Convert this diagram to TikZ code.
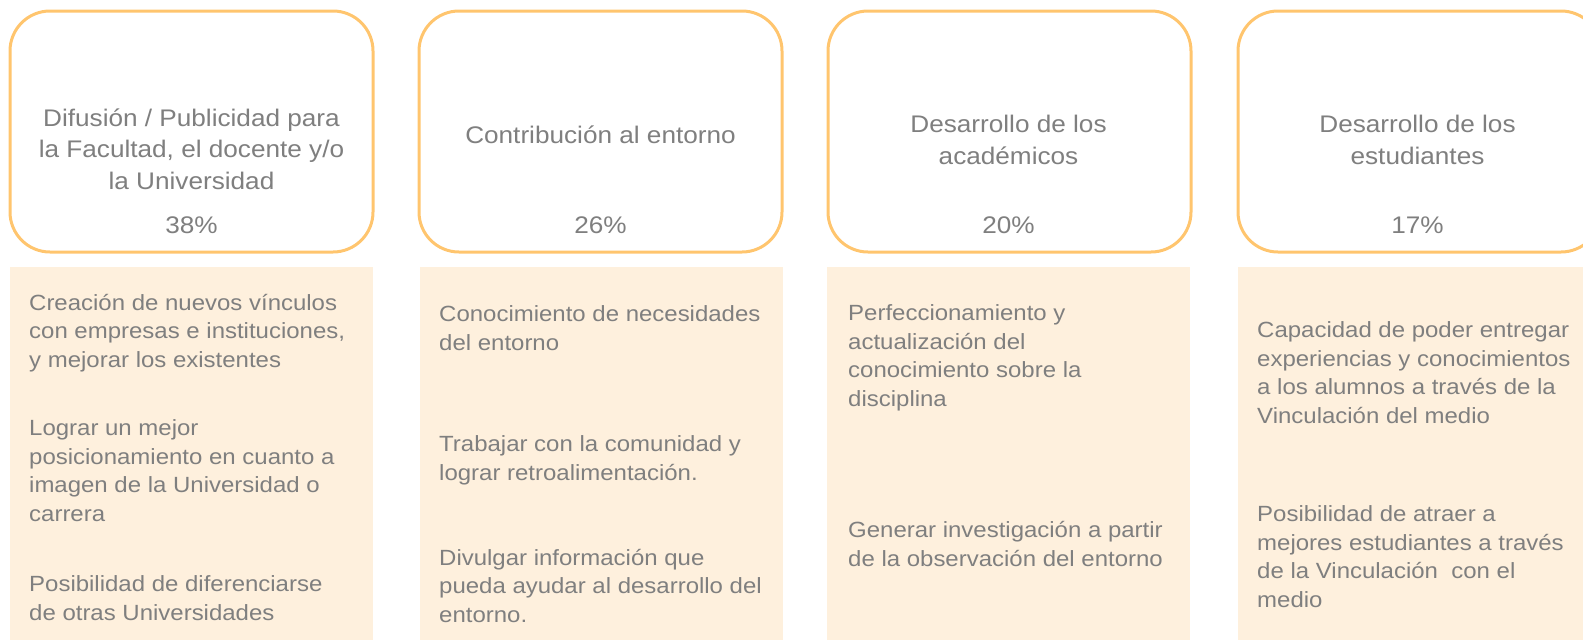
\documentclass[tikz,border=0pt]{standalone}
\usepackage{fontspec}
\setmainfont{Liberation Sans}[FakeStretch=1.09]
\definecolor{bordo}{RGB}{255,197,110}
\definecolor{peach}{RGB}{254,240,221}
\definecolor{txt}{RGB}{127,127,127}
\begin{document}
\begin{tikzpicture}[x=1pt,y=-1pt,
  hdrbox/.style={draw=bordo,line width=3pt,rounded corners=40pt,fill=white,
    minimum width=363pt,minimum height=241pt,inner sep=0pt,outer sep=0pt},
  bodybox/.style={fill=peach,draw=none,minimum width=363pt,minimum height=374pt,
    inner sep=0pt,outer sep=0pt},
  hdrtxt/.style={text=txt,align=center,inner sep=0pt,anchor=base,
    font=\fontsize{24}{31.5}\selectfont},
  bodytxt/.style={text=txt,align=left,inner sep=0pt,anchor=base west,
    font=\fontsize{22}{28.4}\selectfont}]
\useasboundingbox (0,0) rectangle (1583,640);
\clip (0,0) rectangle (1583,640);

% header boxes
\node[hdrbox] (h1) at (191.5,131.5) {};
\node[hdrbox] (h2) at (600.5,131.5) {};
\node[hdrbox] (h3) at (1009.5,131.5) {};
\node[hdrbox] (h4) at (1419.5,131.5) {};

% body boxes
\node[bodybox] (b1) at (191.5,454) {};
\node[bodybox] (b2) at (601,454) {};
\node[bodybox] (b3) at (1008,454) {};
\node[bodybox] (b4) at (1419.5,454) {};

% header texts (anchor = baseline of last line)
\node[hdrtxt] (t1) at (191.5,189) {Difusión / Publicidad para\\la Facultad, el docente y/o\\la Universidad};
\node[hdrtxt] (t2) at (600.5,143) {Contribución al entorno};
\node[hdrtxt] (t3) at (1008.5,164) {Desarrollo de los\\académicos};
\node[hdrtxt] (t4) at (1417.5,164) {Desarrollo de los\\estudiantes};

\node[hdrtxt] (p1) at (191.5,233) {38\%};
\node[hdrtxt] (p2) at (600.5,233) {26\%};
\node[hdrtxt] (p3) at (1008.5,233) {20\%};
\node[hdrtxt] (p4) at (1417.5,233) {17\%};

% column 1
\node[bodytxt] (c1a) at (29,367) {Creación de nuevos vínculos\\con empresas e instituciones,\\y mejorar los existentes};
\node[bodytxt] (c1b) at (29,521) {Lograr un mejor\\posicionamiento en cuanto a\\imagen de la Universidad o\\carrera};
\node[bodytxt] (c1c) at (29,620) {Posibilidad de diferenciarse\\de otras Universidades};

% column 2
\node[bodytxt] (c2a) at (439,350) {Conocimiento de necesidades\\del entorno};
\node[bodytxt] (c2b) at (439,480) {Trabajar con la comunidad y\\lograr retroalimentación.};
\node[bodytxt] (c2c) at (439,622) {Divulgar información que\\pueda ayudar al desarrollo del\\entorno.};

% column 3
\node[bodytxt] (c3a) at (848,406) {Perfeccionamiento y\\actualización del\\conocimiento sobre la\\disciplina};
\node[bodytxt] (c3b) at (848,566) {Generar investigación a partir\\de la observación del entorno};

% column 4
\node[bodytxt] (c4a) at (1257,423) {Capacidad de poder entregar\\experiencias y conocimientos\\a los alumnos a través de la\\Vinculación del medio};
\node[bodytxt] (c4b) at (1257,607) {Posibilidad de atraer a\\mejores estudiantes a través\\de la Vinculación\ \ con el\\medio};
\end{tikzpicture}
\end{document}
